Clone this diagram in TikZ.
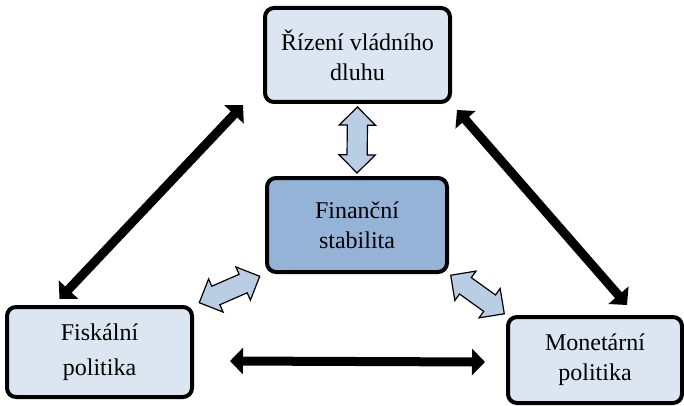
\documentclass[tikz,border=0pt]{standalone}
\usepackage{fontspec}
\setmainfont{Liberation Serif}
\usetikzlibrary{shapes.arrows, arrows.meta, positioning, calc}
\definecolor{boxlight}{HTML}{DCE6F2}
\definecolor{boxmid}{HTML}{95B3D7}
\definecolor{arrowfill}{HTML}{B9CDE5}
\tikzset{
  policybox/.style={rectangle, draw=black, fill=boxlight, line width=4pt,
                    rounded corners=9pt, minimum width=185pt, minimum height=94pt,
                    align=center, font=\fontsize{24}{30}\selectfont},
  centerbox/.style={policybox, fill=boxmid, minimum width=180pt},
  thicklink/.style={{Triangle[length=13pt,width=26pt]}-{Triangle[length=13pt,width=26pt]},
                    line width=9pt, draw=black},
  hollowlink/.style={double arrow, draw=black, fill=arrowfill, line width=1.2pt,
                     inner xsep=0pt, inner ysep=9.5pt, minimum height=66pt,
                     double arrow head extend=8pt, double arrow tip angle=90, sloped},
}
\begin{document}
\begin{tikzpicture}[x=1pt, y=1pt]
  \useasboundingbox (0,0) rectangle (684,405);

  % Boxes
  \node[policybox]                         (rvd)  at (357.5,350) {Řízení vládního\\dluhu};
  \node[centerbox]                         (fin)  at (357,180)   {Finanční\\stabilita};
  \node[policybox, minimum height=90pt]    (fisk) at (99.5,53)   {Fiskální\\[5pt]politika};
  \node[policybox, minimum width=174pt, minimum height=86pt]
                                           (mon)  at (595,45)    {Monetární\\politika};

  % Black links between the policies
  \draw[thicklink] ([xshift=-20pt,yshift=-1pt]rvd.south west) -- ([xshift=-40pt,yshift=6pt]fisk.north);
  \draw[thicklink] ([xshift=5pt,yshift=-6pt]rvd.south east) -- ([xshift=32pt,yshift=10pt]mon.north);
  \draw[thicklink] ([xshift=36pt,yshift=-9pt]fisk.east) -- ([xshift=-21pt,yshift=-2pt]mon.west);

  % Hollow links to financial stability
  \path (fin.north) -- node[hollowlink] {} (rvd.south);
  \path (fisk.north east) -- node[hollowlink] {} (fin.south west);
  \path (fin.south east) -- node[hollowlink] {} (mon.north west);
\end{tikzpicture}
\end{document}
